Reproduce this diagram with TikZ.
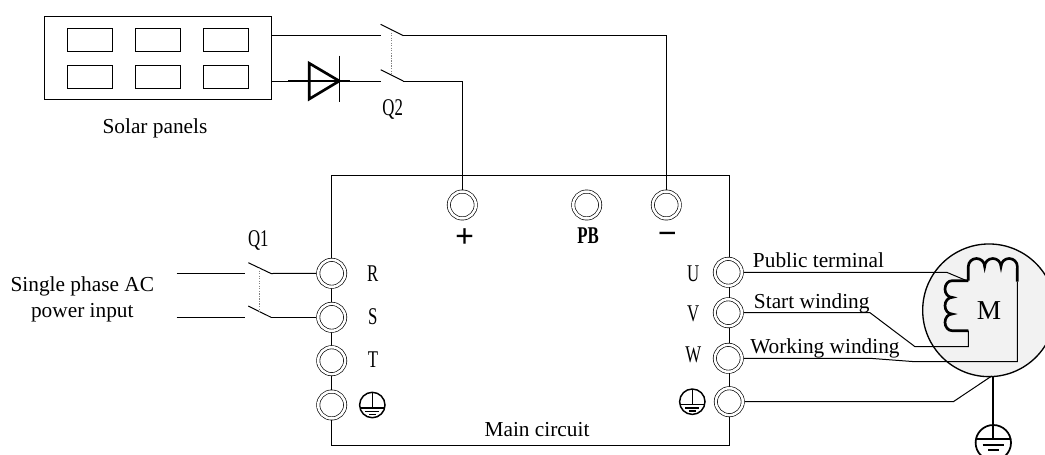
\documentclass[tikz,border=0pt]{standalone}
\usepackage{fontspec}
\setmainfont{Liberation Serif}
\usepackage{tikz}
\usetikzlibrary{arrows.meta, positioning, calc}
\definecolor{LinkGray}{RGB}{130, 130, 130}
\definecolor{MotorFill}{RGB}{242, 242, 242}
\newcommand{\narrowlbl}[1]{\scalebox{0.7}[1]{#1}}
\tikzset{
    wire/.style={line width=0.75pt},
    link/.style={line width=0.9pt, LinkGray, densely dotted},
    coil/.style={line width=2pt},
    terminal/.style={draw, circle, fill=white, inner sep=0pt, outer sep=1.4pt, minimum size=20.2pt, line width=0.5pt, double, double distance=1.9pt},
    panelcell/.style={draw, inner sep=0pt, minimum width=34.2pt, minimum height=17pt, line width=0.75pt},
    lbl/.style={inner sep=0pt, font=\fontsize{16}{18}\selectfont},
    narrow/.style={inner sep=0pt, font=\fontsize{18}{18}\selectfont},
    earth/.pic={
        \draw[line width=1.1pt] (0,0) circle (12.7);
        \draw[line width=1.1pt] (0,-12.7) -- (0,3);
        \draw[line width=1.1pt] (-12.7,3) -- (12.7,3);
        \draw[line width=1.1pt] (-7,6.5) -- (7,6.5);
        \draw[line width=1.1pt] (-3.5,9.5) -- (3.5,9.5);
    },
    bigearth/.pic={
        \draw[line width=1.3pt] (0,0) circle (17.7);
        \draw[line width=1.3pt] (0,-17.7) -- (0,-3.4);
        \draw[line width=1.5pt] (-17.7,-3.4) -- (17.7,-3.4);
        \draw[line width=1.5pt] (-10.7,2) -- (10.7,2);
        \draw[line width=1.5pt] (-5.3,7.3) -- (5.3,7.3);
    }
}
\begin{document}
\begin{tikzpicture}[x=0.75pt, y=-0.75pt]
    \useasboundingbox (0,0) rectangle (1045,454);

    % solar panels
    \node[draw, inner sep=0pt, minimum width=170pt, minimum height=62pt, line width=0.75pt] (panel) at (157.7,58.3) {};
    \node[panelcell] (cell1) at (89.8,39.7) {};
    \node[panelcell] (cell2) at (157.8,39.7) {};
    \node[panelcell] (cell3) at (225.8,39.7) {};
    \node[panelcell] (cell4) at (89.8,77) {};
    \node[panelcell] (cell5) at (157.8,77) {};
    \node[panelcell] (cell6) at (225.8,77) {};
    \node[lbl] (solar) at (155,128.5) {Solar panels};

    % main circuit box
    \node[draw, inner sep=0pt, minimum width=298.5pt, minimum height=202.5pt, line width=0.75pt] (mainbox) at (530.7,310) {};
    \node[lbl] (maintxt) at (537,430) {Main circuit};

    % motor
    \node[draw, circle, fill=MotorFill, inner sep=0pt, minimum size=99.5pt, line width=1pt, font=\fontsize{20.5}{20}\selectfont] (motor) at (989,310.3) {M};

    % terminals
    \node[terminal] (tR) at (331.7,273.3) {};
    \node[terminal] (tS) at (331.7,317.3) {};
    \node[terminal] (tT) at (331.7,360.7) {};
    \node[terminal] (tEL) at (331.7,405) {};
    \node[terminal] (tU) at (728.3,272.3) {};
    \node[terminal] (tV) at (728.3,312.7) {};
    \node[terminal] (tW) at (728.3,358.3) {};
    \node[terminal] (tER) at (729.3,401.7) {};
    \node[terminal] (tPlus) at (462.3,205) {};
    \node[terminal] (tPB) at (586.7,205) {};
    \node[terminal] (tMinus) at (666.3,205) {};

    % terminal labels
    \node[narrow] (lR) at (372.7,273.3) {\narrowlbl{R}};
    \node[narrow] (lS) at (372.7,316.7) {\narrowlbl{S}};
    \node[narrow] (lT) at (373,360) {\narrowlbl{T}};
    \node[narrow] (lU) at (693.3,273.3) {\narrowlbl{U}};
    \node[narrow] (lV) at (693.3,314) {\narrowlbl{V}};
    \node[narrow] (lW) at (693.3,355) {\narrowlbl{W}};
    \node[narrow] (lQ1) at (258.3,240) {\narrowlbl{Q1}};
    \node[narrow] (lQ2) at (392.7,109) {\narrowlbl{Q2}};
    \node[narrow] (lPB) at (588,235.7) {\narrowlbl{\bfseries PB}};
    \node[inner sep=0pt, font=\fontsize{25}{25}\selectfont\bfseries] (lPlus) at (464.7,238) {+};
    \node[inner sep=0pt, font=\fontsize{25}{25}\selectfont\bfseries] (lMinus) at (667.3,238.7) {−};
    \node[lbl] (acA) at (82.3,286.5) {Single phase AC};
    \node[lbl] (acB) at (82.3,313) {power input};
    \node[lbl, anchor=base west] (pub) at (752.7,267) {Public terminal};
    \node[lbl, anchor=base west] (sta) at (753.7,308) {Start winding};
    \node[lbl, anchor=base west] (wor) at (750,353.5) {Working winding};

    % switch Q2
    \coordinate (q2a) at (380.7,35.7);
    \coordinate (q2b) at (380.7,81);
    \coordinate (q2c) at (403.3,35.7);
    \coordinate (q2d) at (403.3,81);
    \draw[wire] (panel.east |- q2a) -- (q2a);
    \draw[wire] (panel.east |- q2b) -- (q2b);
    \draw[wire] (380.7,24.3) -- (q2c);
    \draw[wire] (380.7,69.7) -- (q2d);
    \draw[link] (391.7,30) -- (391.7,75);
    \draw[wire] (q2c) -| (tMinus);
    \draw[wire] (q2d) -| (tPlus);

    % diode
    \draw[line width=2pt] (309.3,63.3) -- (309.3,99) -- (339.3,81) -- cycle;
    \draw[line width=1.1pt] (288.3,81) -- (350,81);
    \draw[line width=1.1pt] (339.3,55.7) -- (339.3,101.7);

    % switch Q1
    \coordinate (q1a) at (176.7,273.7);
    \coordinate (q1b) at (245,273.7);
    \coordinate (q1c) at (176.7,317.3);
    \coordinate (q1d) at (245,317.3);
    \coordinate (q1e) at (271,273.5);
    \coordinate (q1f) at (271,317.3);
    \draw[wire] (q1a) -- (q1b);
    \draw[wire] (q1c) -- (q1d);
    \draw[wire] (248.3,262.7) -- (q1e);
    \draw[wire] (248.3,306) -- (q1f);
    \draw[link] (259.3,268) -- (259.3,312);
    \draw[wire] (q1e) -- (tR);
    \draw[wire] (q1f) -- (tS);

    % motor windings
    \draw[coil] (968.3,280.7) -- (968.3,266.5) arc[start angle=180, end angle=360, x radius=8.17, y radius=8] arc[start angle=180, end angle=360, x radius=8.17, y radius=8] arc[start angle=180, end angle=360, x radius=8.17, y radius=8] -- (1017.3,281.7);
    \draw[coil] (968.3,280.7) -- (952,280.7) arc[start angle=270, end angle=90, x radius=7, y radius=8.33] arc[start angle=270, end angle=90, x radius=7, y radius=8.33] arc[start angle=270, end angle=90, x radius=7, y radius=8.33] -- (968.3,330.7);

    % motor wires
    \draw[wire] (tU) -- (946.7,272.3) -- (966.7,280.7);
    \draw[wire] (tV) -- (870,312.7) -- (915,346.7) -- (968.3,346.7) -- (968.3,330.7);
    \draw[wire] (tW) -- (870,358.3) -- (915,361.7) -- (1017.3,361.7) -- (1017.3,281.7);
    \draw[wire] (tER) -- (953.3,401.7) -- (991.7,376);

    % earth
    \coordinate (gndtop) at (993.3,376);
    \coordinate (gndcap) at (993.3,425);
    \pic at (372.3,405) {earth};
    \pic at (692.3,401.7) {earth};
    \pic at (993.3,442.7) {bigearth};
    \draw[line width=1.3pt] (gndtop) -- (gndcap);
\end{tikzpicture}
\end{document}
